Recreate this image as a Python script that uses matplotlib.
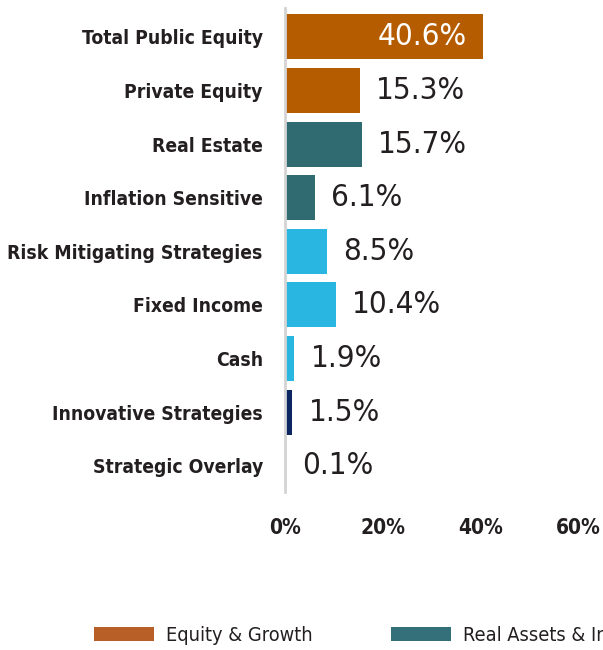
import matplotlib
matplotlib.use("Agg")
import matplotlib.pyplot as plt
from matplotlib.patches import Patch
from matplotlib import font_manager
from matplotlib.font_manager import FontProperties

categories = ["Total Public Equity", "Private Equity", "Real Estate", "Inflation Sensitive",
              "Risk Mitigating Strategies", "Fixed Income", "Cash", "Innovative Strategies",
              "Strategic Overlay"]
values = [40.6, 15.3, 15.7, 6.1, 8.5, 10.4, 1.9, 1.5, 0.1]
groups = ["Equity & Growth", "Equity & Growth", "Real Assets & Inflation Sensitive",
          "Real Assets & Inflation Sensitive", "Risk Mitigating Strategies",
          "Risk Mitigating Strategies", "Risk Mitigating Strategies", "Innovative Strategies",
          "Innovative Strategies"]
legend_labels = ["Equity & Growth", "Real Assets & Inflation Sensitive",
                 "Risk Mitigating Strategies", "Innovative Strategies"]
xticks = [0, 20, 40, 60]

group_colors = {
    "Equity & Growth": "#B65C00",
    "Real Assets & Inflation Sensitive": "#2F6B71",
    "Risk Mitigating Strategies": "#29B7E2",
    "Innovative Strategies": "#0B2660",
}
legend_colors = {
    "Equity & Growth": "#B85F28",
    "Real Assets & Inflation Sensitive": "#33707A",
    "Risk Mitigating Strategies": "#29B7E2",
    "Innovative Strategies": "#0B2660",
}

# look for a narrow/condensed face if one is installed
cond_reg = cond_bold = None
for f in font_manager.fontManager.ttflist:
    narrow = ("Narrow" in f.name or "Condensed" in f.name or
              f.stretch in ("condensed", "semi-condensed")) and f.style == "normal"
    if not narrow:
        continue
    w = f.weight if isinstance(f.weight, int) else (700 if f.weight == "bold" else 400)
    if w >= 600 and cond_bold is None:
        cond_bold = f.fname
    elif w < 600 and cond_reg is None:
        cond_reg = f.fname

if cond_reg and cond_bold:
    reg = FontProperties(fname=cond_reg)
    bold = FontProperties(fname=cond_bold)
    s_lab, s_val, s_tick, s_leg = 13.9, 22.5, 15, 14.3
else:
    reg = FontProperties(family=["Liberation Sans", "DejaVu Sans"])
    bold = FontProperties(family=["Liberation Sans", "DejaVu Sans"], weight="bold")
    s_lab, s_val, s_tick, s_leg = 14.4, 22.5, 15, 14

txt = "#231f20"
fig = plt.figure(figsize=(6.03, 6.5), dpi=100)
ax = fig.add_axes([285 / 603, 1 - 492 / 650, 1 - 285 / 603, (492 - 8) / 650])

ypos = list(range(len(categories)))
colors = [group_colors[g] for g in groups]
ax.barh(ypos, values, height=0.84, color=colors, edgecolor="none")

ax.set_xlim(0, 65.1)
ax.set_ylim(len(categories) - 1 + 0.49, -0.54)

ax.set_yticks(ypos)
ax.set_yticklabels(categories, fontproperties=bold, fontsize=s_lab, color=txt)
ax.set_xticks(xticks)
ax.set_xticklabels([f"{t}%" for t in xticks], fontproperties=bold, fontsize=s_tick, color=txt)
ax.tick_params(axis="y", length=0, pad=16)
ax.tick_params(axis="x", length=0, pad=19)

for s in ["top", "right", "bottom"]:
    ax.spines[s].set_visible(False)
ax.spines["left"].set_color("#d4d4d4")
ax.spines["left"].set_linewidth(2)

for y, v in zip(ypos, values):
    if v > 30:
        ax.text(v - 3.4, y, f"{v}%", ha="right", va="center", fontproperties=reg,
                fontsize=s_val, color="white")
    else:
        ax.text(v + 3.4, y, f"{v}%", ha="left", va="center", fontproperties=reg,
                fontsize=s_val, color=txt)

leg_prop = reg.copy()
leg_prop.set_size(s_leg)
handles = [Patch(facecolor=legend_colors[g], edgecolor="none", label=g) for g in legend_labels]
fig.legend(handles=handles, loc="center left", bbox_to_anchor=(94 / 603, 1 - 635.5 / 650),
           ncol=4, frameon=False, prop=leg_prop, handlelength=3.02, handleheight=0.65,
           handletextpad=0.6, columnspacing=3.97, borderpad=0, borderaxespad=0,
           labelcolor=txt)

fig.savefig("out.png", dpi=100)
